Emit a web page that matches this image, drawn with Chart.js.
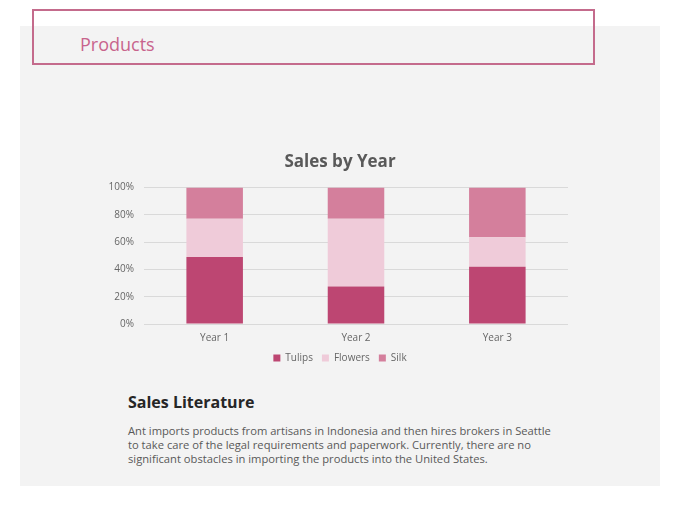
<!DOCTYPE html>
<html>
<head>
<meta charset="utf-8">
<script src="https://cdn.jsdelivr.net/npm/chart.js@4/dist/chart.umd.min.js"></script>
<style>
  html, body { margin: 0; padding: 0; background: #ffffff; }
  body { width: 680px; height: 510px; position: relative; overflow: hidden; font-family: "Open Sans", "Noto Sans", sans-serif; }
  #panel { position: absolute; left: 20px; top: 26px; width: 640px; height: 460px; background: #f3f3f3; }
  #header { position: absolute; left: 32px; top: 9px; width: 559px; height: 52px; border: 2px solid #c46b8c; box-sizing: content-box; }
  #header span { position: absolute; left: 46px; top: 21px; font-size: 18px; color: #c8648c; font-weight: 400; }
  #chartbox { position: absolute; left: 90px; top: 140px; width: 500px; height: 238px; }
  #lit { position: absolute; left: 128px; top: 391px; font-size: 16px; font-weight: 700; color: #262626; }
  #para { position: absolute; left: 128px; top: 424px; font-size: 11.2px; line-height: 14px; color: #595959; white-space: nowrap; }
</style>
</head>
<body>
<div id="panel"></div>
<div id="header"><span>Products</span></div>
<div id="chartbox"><canvas id="c" width="500" height="238"></canvas></div>
<div id="lit">Sales Literature</div>
<div id="para">Ant imports products from artisans in Indonesia and then hires brokers in Seattle<br>to take care of the legal requirements and paperwork. Currently, there are no<br>significant obstacles in importing the products into the United States.</div>
<script>
const categories = ["Year 1", "Year 2", "Year 3"];
const tulips = [49, 27.5, 42];
const flowers = [28, 49.5, 21.5];
const silk = [23, 23, 36.5];
const yTicks = ["0%", "20%", "40%", "60%", "80%", "100%"];

new Chart(document.getElementById("c"), {
  type: "bar",
  data: {
    labels: categories,
    datasets: [
      { label: "Tulips", data: tulips, backgroundColor: "#bd4672" },
      { label: "Flowers", data: flowers, backgroundColor: "#efcbd9" },
      { label: "Silk", data: silk, backgroundColor: "#d47f9c" }
    ]
  },
  options: {
    responsive: false,
    animation: false,
    devicePixelRatio: 1,
    layout: { padding: { left: 0, right: 0, top: 0, bottom: 5 } },
    datasets: { bar: { categoryPercentage: 1, barPercentage: 0.4 } },
    plugins: {
      title: {
        display: true, text: "Sales by Year", color: "#595959",
        font: { family: "'Open Sans', sans-serif", size: 17, weight: "bold" },
        padding: { top: 12, bottom: 15 }
      },
      legend: {
        position: "bottom",
        labels: { boxWidth: 7, boxHeight: 7, padding: 9, color: "#666666",
          font: { family: "'Open Sans', sans-serif", size: 10 } }
      },
      tooltip: { enabled: false }
    },
    scales: {
      x: {
        stacked: true,
        grid: { display: false },
        border: { display: false },
        ticks: { color: "#666666", padding: 0, font: { family: "'Open Sans', sans-serif", size: 10 } }
      },
      y: {
        stacked: true, min: 0, max: 100,
        afterBuildTicks: (ax) => { ax.ticks = yTicks.map((t, i) => ({ value: i * 20 })); },
        afterFit: (ax) => { ax.width = 54; },
        grid: { color: "#d9d9d9", drawTicks: false },
        border: { display: false },
        ticks: { color: "#666666", padding: 10, font: { family: "'Open Sans', sans-serif", size: 10 },
          callback: (v, i) => yTicks[i] }
      },
      yRight: {
        position: "right", display: true, min: 0, max: 100,
        afterFit: (ax) => { ax.width = 22; },
        grid: { display: false, drawTicks: false },
        border: { display: false },
        ticks: { display: false }
      }
    }
  }
});
</script>
</body>
</html>
